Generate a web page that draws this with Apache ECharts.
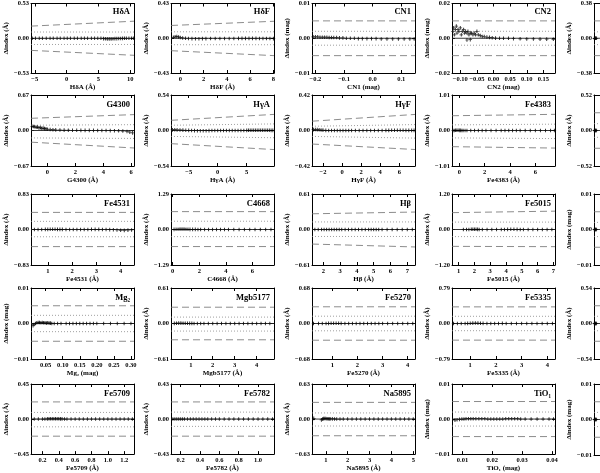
<!DOCTYPE html>
<html>
<head>
<meta charset="utf-8">
<script src="https://cdn.jsdelivr.net/npm/echarts@6/dist/echarts.min.js"></script>
<style>
  html, body { margin: 0; padding: 0; background: #fff; }
  #chart { width: 600px; height: 473px; }
</style>
</head>
<body>
<div id="chart"></div>
<script>
// 5x5 grid of residual panels, reading order; the 5th column is cut off by the frame
const names = ['HδA', 'HδF', 'CN1', 'CN2', '',
  'G4300', 'HγA', 'HγF', 'Fe4383', '',
  'Fe4531', 'C4668', 'Hβ', 'Fe5015', '',
  'Mg₂', 'Mgb5177', 'Fe5270', 'Fe5335', '',
  'Fe5709', 'Fe5782', 'Na5895', 'TiO₁', '']
const units = ['Å', 'Å', 'mag', 'mag', 'Å',
  'Å', 'Å', 'Å', 'Å', 'Å',
  'Å', 'Å', 'Å', 'Å', 'mag',
  'mag', 'Å', 'Å', 'Å', 'Å',
  'Å', 'Å', 'Å', 'mag', 'mag']
const yMax = [0.53, 0.43, 0.01, 0.02, 0.38,
  0.67, 0.54, 0.42, 1.01, 0.52,
  0.83, 1.29, 0.61, 1.20, 0.01,
  0.01, 0.61, 0.68, 0.79, 0.54,
  0.45, 0.43, 0.63, 0.01, 0.01]
const xRange = [[-5.6, 10.6], [-0.8, 8.05], [-0.212, 0.148], [-0.125, 0.185], [0, 1],
  [-1.17, 6.2], [-8.05, 9.7], [-3.15, 7.65], [-0.58, 7.55], [0, 1],
  [0.31, 4.55], [-0.13, 7.63], [1.33, 7.46], [0.58, 7.1], [0, 1],
  [0.007, 0.309], [0.1, 4.79], [0.19, 4.29], [0.29, 4.3], [0, 1],
  [0.06, 1.32], [0.1, 1.165], [0.37, 5.08], [0.0065, 0.041], [0, 1]]
const xTicks = [[-5, 0, 5, 10], [0, 2, 4, 6, 8], [-0.2, -0.1, 0, 0.1], [-0.1, -0.05, 0, 0.05, 0.1, 0.15], [],
  [0, 2, 4, 6], [-5, 0, 5], [-2, 0, 2, 4, 6], [0, 2, 4, 6], [],
  [1, 2, 3, 4], [0, 2, 4, 6], [2, 3, 4, 5, 6, 7], [1, 2, 3, 4, 5, 6, 7], [],
  [0.05, 0.1, 0.15, 0.2, 0.25, 0.3], [1, 2, 3, 4], [1, 2, 3, 4], [1, 2, 3, 4], [],
  [0.2, 0.4, 0.6, 0.8, 1.0, 1.2], [0.2, 0.4, 0.6, 0.8, 1.0], [1, 2, 3, 4, 5], [0.01, 0.02, 0.03, 0.04], []]
const xDecimals = [0, 0, 1, 2, 0, 0, 0, 0, 0, 0, 0, 0, 0, 0, 0, 2, 0, 0, 0, 0, 1, 1, 0, 2, 0]

// reference lines: [value at left edge, value at right edge]
const dashedUp = [[0.185, 0.26], [0.158, 0.21], [0.005, 0.005], [0.01, 0.01], [0.19, 0.19],
  [0.23, 0.30], [0.155, 0.245], [0.11, 0.19], [0.42, 0.46], [0.26, 0.26],
  [0.40, 0.40], [0.65, 0.65], [0.27, 0.30], [0.57, 0.62], [0.005, 0.005],
  [0.005, 0.005], [0.28, 0.28], [0.32, 0.32], [0.37, 0.37], [0.27, 0.27],
  [0.22, 0.22], [0.21, 0.21], [0.30, 0.30], [0.005, 0.005], [0.005, 0.005]]
const dashedLo = [[-0.185, -0.26], [-0.154, -0.215], [-0.005, -0.005], [-0.01, -0.01], [-0.19, -0.19],
  [-0.22, -0.33], [-0.2, -0.29], [-0.16, -0.225], [-0.46, -0.5], [-0.26, -0.26],
  [-0.40, -0.40], [-0.62, -0.62], [-0.25, -0.30], [-0.57, -0.58], [-0.005, -0.005],
  [-0.005, -0.005], [-0.28, -0.28], [-0.32, -0.32], [-0.37, -0.37], [-0.27, -0.27],
  [-0.22, -0.22], [-0.21, -0.21], [-0.30, -0.30], [-0.005, -0.005], [-0.005, -0.005]]
const dottedUp = [[0.095, 0.095], [0.08, 0.08], [0.002, 0.002], [0.004, 0.004], [0.07, 0.07],
  [0.1, 0.11], [0.08, 0.1], [0.05, 0.07], [0.16, 0.18], [0.1, 0.1],
  [0.19, 0.19], [0.3, 0.3], [0.13, 0.13], [0.25, 0.25], [0.002, 0.002],
  [0.0023, 0.0023], [0.11, 0.11], [0.14, 0.14], [0.16, 0.16], [0.11, 0.11],
  [0.085, 0.085], [0.085, 0.085], [0.11, 0.11], [0.002, 0.002], [0.002, 0.002]]
const dottedLo = [[-0.095, -0.095], [-0.08, -0.08], [-0.002, -0.002], [-0.004, -0.004], [-0.07, -0.07],
  [-0.14, -0.15], [-0.09, -0.11], [-0.07, -0.09], [-0.21, -0.23], [-0.1, -0.1],
  [-0.17, -0.17], [-0.26, -0.26], [-0.12, -0.12], [-0.24, -0.24], [-0.002, -0.002],
  [-0.0023, -0.0023], [-0.13, -0.13], [-0.14, -0.14], [-0.16, -0.16], [-0.11, -0.11],
  [-0.1, -0.1], [-0.09, -0.09], [-0.125, -0.125], [-0.002, -0.002], [-0.002, -0.002]]

// residual points [index value, Δindex]
const ptsHdA = [[-5.4, 0], [-4.9, 0], [-4.3, 0], [-3.8, 0], [-3.2, 0], [-2.6, 0], [-2.1, 0], [-1.5, 0], [-1, 0], [-0.4, 0],
  [0.1, 0], [0.6, 0], [1.2, 0], [1.7, 0], [2.3, 0], [2.8, 0], [3.3, 0], [3.9, 0], [4.4, 0], [4.9, 0], [5.4, 0],
  [5.8, -0.005], [6.1, -0.008], [6.4, -0.01], [6.7, -0.01], [7.0, -0.01], [7.3, -0.008], [7.6, -0.006], [7.9, -0.005],
  [8.2, -0.004], [8.5, -0.003], [8.8, -0.002], [9.1, 0], [9.4, 0], [9.8, 0], [10.2, 0], [10.5, 0]]
const ptsHdF = [[-0.6, 0.012], [-0.45, 0.018], [-0.3, 0.02], [-0.15, 0.016], [0, 0.01], [0.2, 0.004], [0.45, 0],
  [0.7, -0.003], [1, -0.005], [1.3, -0.006], [1.6, -0.006], [1.9, -0.005], [2.2, -0.005], [2.6, -0.004], [3, -0.004],
  [3.4, -0.004], [3.8, -0.003], [4.2, -0.003], [4.6, -0.003], [5, -0.002], [5.3, -0.002], [5.6, -0.002], [5.9, -0.002],
  [6.2, -0.002], [6.5, -0.002], [6.8, -0.003], [7.1, -0.003], [7.4, -0.004], [7.7, -0.004], [8, -0.005]]
const ptsCN1 = [[-0.208, 0.0004], [-0.2, 0.0004], [-0.192, 0.0004], [-0.184, 0.0003], [-0.176, 0.0003], [-0.168, 0.0003],
  [-0.16, 0.0003], [-0.152, 0.0002], [-0.144, 0.0002], [-0.136, 0.0002], [-0.126, 0.0002], [-0.116, 0.0001], [-0.104, 0.0001],
  [-0.092, 0], [-0.078, 0], [-0.064, 0], [-0.05, -0.0001], [-0.036, -0.0001], [-0.02, -0.0001], [-0.004, -0.0001],
  [0.012, -0.0001], [0.03, -0.0002], [0.05, -0.0002], [0.07, -0.0002], [0.09, -0.0002], [0.11, -0.0002], [0.13, -0.0002], [0.145, -0.0002]]
const ptsCN2 = [[-0.122, 0.004], [-0.12, 0.006], [-0.118, 0.002], [-0.115, 0.005], [-0.112, 0.007], [-0.11, 0.003],
  [-0.107, 0.005], [-0.104, 0.004], [-0.1, 0.006], [-0.097, 0.002], [-0.094, 0.004], [-0.09, 0.005], [-0.087, 0.003],
  [-0.084, 0.004], [-0.08, 0.003], [-0.077, 0.004], [-0.074, 0.002], [-0.07, 0.003], [-0.066, 0.003], [-0.062, 0.002],
  [-0.058, 0.003], [-0.054, 0.002], [-0.05, 0.004], [-0.046, 0.002], [-0.08, -0.001], [-0.07, -0.0008], [-0.04, 0.0015],
  [-0.034, 0.001], [-0.028, 0.001], [-0.02, 0.0007], [-0.012, 0.0005], [-0.004, 0.0003], [0.006, 0.0001], [0.018, 0],
  [0.03, 0], [0.045, 0], [0.06, -0.0002], [0.08, -0.0003], [0.1, -0.0004], [0.12, -0.0004], [0.14, -0.0005], [0.16, -0.0005], [0.18, -0.0006]]
const ptsG4300 = [[-1.1, 0.08], [-1.0, 0.075], [-0.9, 0.07], [-0.8, 0.06], [-0.7, 0.065], [-0.6, 0.05], [-0.5, 0.055],
  [-0.4, 0.04], [-0.3, 0.045], [-0.2, 0.035], [-0.1, 0.03], [0, 0.025], [0.2, 0.02], [0.4, 0.015], [0.6, 0.012],
  [0.9, 0.01], [1.2, 0.008], [1.5, 0.006], [1.8, 0.005], [2.1, 0.004], [2.4, 0.003], [2.7, 0.003], [3, 0.002],
  [3.3, 0.002], [3.6, 0.001], [3.9, 0], [4.2, 0], [4.5, -0.002], [4.8, -0.004], [5.1, -0.006], [5.4, -0.01],
  [5.7, -0.02], [5.9, -0.03], [6.1, -0.045]]
const ptsHgA = [[-7.8, 0.01], [-7.4, 0.012], [-7, 0.01], [-6.5, 0.008], [-6, 0.006], [-5.5, 0.004], [-5, 0.002],
  [-4.5, 0], [-4, -0.002], [-3.5, -0.004], [-3, -0.004], [-2.5, -0.004], [-2, -0.003], [-1.5, -0.002], [-1, -0.001],
  [-0.5, 0], [0, 0], [0.5, 0], [1, 0], [1.5, 0], [2, 0], [2.5, 0], [3, 0], [3.5, 0], [4, 0], [4.5, 0.001], [5, 0.002],
  [5.3, 0.003], [5.6, 0.003], [5.9, 0.004], [6.2, 0.004], [6.5, 0.004], [6.8, 0.004], [7.1, 0.004], [7.4, 0.004],
  [7.7, 0.004], [8, 0.004], [8.3, 0.003], [8.6, 0.003], [8.9, 0.003], [9.2, 0.002], [9.5, 0.002]]
const ptsHgF = [[-3, 0.01], [-2.8, 0.012], [-2.6, 0.01], [-2.4, 0.008], [-2.2, 0.006], [-2, 0.004], [-1.7, 0.002],
  [-1.4, 0], [-1.1, 0], [-0.8, 0], [-0.5, 0], [-0.2, 0], [0.1, 0], [0.4, 0], [0.7, 0], [1, 0], [1.4, 0], [1.8, 0],
  [2.2, 0], [2.6, 0], [3, 0], [3.4, 0], [3.8, 0], [4.2, 0], [4.6, 0.002], [4.9, 0.002], [5.2, 0.003], [5.5, 0.003],
  [5.8, 0.003], [6.1, 0.003], [6.4, 0.003], [6.7, 0.002], [7, 0.002], [7.3, 0.002], [7.55, 0.002]]
const ptsFe4383 = [[-0.5, 0], [-0.4, 0], [-0.3, 0.005], [-0.2, 0.006], [-0.1, 0.006], [0, 0.004], [0.1, 0.004],
  [0.2, 0.002], [0.3, 0.002], [0.45, 0], [0.6, 0], [0.9, 0], [1.2, 0], [1.5, 0], [1.8, 0], [2.1, 0], [2.5, 0],
  [2.9, 0], [3.3, 0], [3.6, 0], [3.9, 0], [4.2, 0], [4.5, 0], [4.8, 0], [5.2, 0], [5.6, 0], [6, 0], [6.4, 0],
  [6.8, 0], [7.2, 0], [7.5, 0]]
const ptsFe4531 = [[0.45, 0], [0.6, 0], [0.75, 0], [0.9, 0.002], [1, 0.004], [1.1, 0.006], [1.2, 0.006], [1.3, 0.005],
  [1.4, 0.004], [1.5, 0.003], [1.6, 0.002], [1.75, 0.001], [1.9, 0], [2.05, 0], [2.2, 0], [2.35, 0], [2.5, 0],
  [2.65, 0], [2.8, 0.002], [2.95, 0.003], [3.1, 0.002], [3.25, 0], [3.4, 0], [3.55, -0.002], [3.7, -0.005],
  [3.85, -0.012], [4, -0.018], [4.15, -0.02], [4.3, -0.015], [4.45, -0.01]]
const ptsC4668 = [[0.1, 0.005], [0.25, 0.008], [0.4, 0.01], [0.55, 0.012], [0.7, 0.014], [0.85, 0.012], [1, 0.01],
  [1.15, 0.008], [1.3, 0.006], [1.5, 0.004], [1.7, 0.003], [1.9, 0.002], [2.1, 0.001], [2.4, 0], [2.7, 0], [3, 0],
  [3.3, 0], [3.6, 0], [3.9, 0], [4.2, 0], [4.6, 0], [5, 0], [5.4, 0], [5.8, 0], [6.2, 0], [6.6, 0], [7, 0], [7.4, 0]]
const ptsHb = [[1.5, 0], [1.7, 0], [1.9, 0], [2.05, 0], [2.2, 0], [2.35, 0], [2.5, 0], [2.65, 0], [2.8, 0], [2.95, 0],
  [3.1, 0], [3.3, 0], [3.5, 0], [3.7, 0], [3.9, 0], [4.1, 0], [4.3, 0], [4.5, 0], [4.7, 0], [4.85, 0], [5, 0],
  [5.15, 0], [5.3, 0], [5.5, 0], [5.8, 0], [6.1, 0], [6.4, 0], [6.7, 0], [7, 0], [7.3, 0]]
const ptsFe5015 = [[1.3, 0], [1.5, 0], [1.65, 0], [1.8, 0.006], [1.9, 0.008], [2, 0.008], [2.1, 0.006], [2.2, 0.004],
  [2.3, 0.002], [2.5, 0], [2.8, 0], [3.1, 0], [3.4, 0], [3.7, 0], [3.9, 0], [4.1, 0.004], [4.3, 0.006], [4.5, 0.006],
  [4.7, 0.004], [4.9, 0.002], [5.1, 0], [5.4, 0], [5.7, 0], [6, 0], [6.3, 0], [6.6, 0], [6.9, 0]]
const ptsCol5 = [[0.01, 0], [0.02, 0], [0.03, 0], [0.04, 0], [0.05, 0], [0.07, 0], [0.1, 0]]
const ptsMg2 = [[0.013, -0.0006], [0.016, -0.0003], [0.02, 0], [0.024, 0.0002], [0.028, 0.0003], [0.032, 0.0003],
  [0.036, 0.0002], [0.04, 0.0003], [0.044, 0.0002], [0.048, 0.0002], [0.052, 0.0001], [0.056, 0.0002], [0.06, 0.0001],
  [0.064, 0.0001], [0.068, 0], [0.075, 0], [0.085, 0], [0.095, 0], [0.11, 0], [0.12, 0], [0.13, 0], [0.14, 0],
  [0.15, 0], [0.16, 0], [0.17, 0], [0.18, 0], [0.19, 0], [0.2, 0], [0.22, 0], [0.24, 0], [0.26, 0], [0.28, 0], [0.3, 0]]
const ptsMgb = [[0.25, 0.003], [0.35, 0.005], [0.45, 0.006], [0.55, 0.006], [0.65, 0.005], [0.75, 0.004], [0.85, 0.004],
  [0.95, 0.003], [1.05, 0.002], [1.15, 0.001], [1.3, 0], [1.45, 0], [1.6, 0], [1.8, 0], [2, 0], [2.2, 0], [2.4, 0],
  [2.6, 0], [2.8, 0], [3, 0], [3.2, 0], [3.4, 0], [3.6, 0], [3.8, 0], [4, 0], [4.2, 0], [4.4, 0], [4.6, 0]]
const ptsFe5270 = [[0.25, 0], [0.45, 0], [0.6, 0], [0.75, 0], [0.85, 0.002], [0.95, 0.004], [1.05, 0.005], [1.15, 0.005],
  [1.25, 0.004], [1.35, 0.002], [1.5, 0], [1.65, 0], [1.8, 0], [1.95, 0], [2.1, 0], [2.25, 0], [2.4, 0], [2.55, 0],
  [2.7, 0], [2.85, 0], [3, 0], [3.2, 0], [3.4, 0], [3.6, 0], [3.8, 0], [4, 0], [4.2, 0]]
const ptsFe5335 = [[0.35, 0], [0.5, 0], [0.65, 0], [0.8, 0], [0.9, 0.003], [1, 0.005], [1.1, 0.008], [1.2, 0.01],
  [1.3, 0.008], [1.4, 0.005], [1.5, 0.003], [1.65, 0], [1.8, 0], [1.95, 0], [2.1, 0], [2.25, 0.002], [2.4, 0],
  [2.6, 0], [2.8, 0], [3, 0], [3.2, 0], [3.4, 0], [3.6, 0], [3.8, 0], [4, 0], [4.2, 0]]
const ptsFe5709 = [[0.1, 0], [0.15, 0], [0.2, 0], [0.23, 0], [0.26, 0.002], [0.28, 0.003], [0.3, 0.003], [0.32, 0.003],
  [0.34, 0.003], [0.36, 0.003], [0.38, 0.003], [0.4, 0.003], [0.42, 0.002], [0.44, 0.002], [0.47, 0], [0.5, 0],
  [0.55, 0], [0.6, 0], [0.65, 0], [0.7, 0], [0.75, 0], [0.8, 0], [0.85, 0], [0.9, 0], [0.95, 0], [1, 0], [1.05, 0],
  [1.1, 0], [1.15, 0], [1.2, 0], [1.25, 0], [1.3, 0]]
const ptsFe5782 = [[0.12, 0], [0.14, 0], [0.16, 0], [0.18, 0], [0.2, 0], [0.22, 0], [0.24, 0], [0.27, 0], [0.3, 0],
  [0.33, 0], [0.36, 0], [0.39, 0], [0.42, 0], [0.45, 0], [0.48, 0], [0.52, 0], [0.56, 0], [0.6, 0], [0.65, 0],
  [0.7, 0], [0.75, 0], [0.8, 0], [0.85, 0], [0.9, 0], [0.95, 0], [1, 0], [1.05, 0], [1.1, 0], [1.15, 0]]
const ptsNa5895 = [[0.45, 0.012], [0.8, -0.015], [0.85, 0], [0.9, 0.008], [0.95, 0.01], [1, 0.01], [1.05, 0.006],
  [1.1, 0.005], [1.15, 0.004], [1.2, 0.004], [1.3, 0.003], [1.4, 0.002], [1.5, 0], [1.65, 0], [1.8, 0], [2, 0],
  [2.2, 0], [2.4, 0], [2.6, 0], [2.8, 0], [3, 0], [3.2, 0], [3.4, 0], [3.6, 0], [3.8, 0], [4, 0], [4.2, 0],
  [4.4, 0], [4.6, 0], [4.8, 0], [5, 0]]
const ptsTiO1 = [[0.0075, -0.0003], [0.0082, -0.0002], [0.009, -0.0001], [0.0098, 0], [0.0105, 0], [0.0112, 0.0001],
  [0.012, 0.0001], [0.0128, 0.0001], [0.0136, 0.0001], [0.0145, 0.0001], [0.0155, 0.0001], [0.0165, 0.0001],
  [0.0175, 0.0001], [0.0185, 0], [0.0195, 0], [0.0205, 0], [0.0215, 0], [0.0225, 0], [0.0235, 0], [0.0245, 0.0001],
  [0.0255, 0.0001], [0.0265, 0.0001], [0.0275, 0.0001], [0.0285, 0.0001], [0.0295, 0], [0.031, 0], [0.033, 0],
  [0.035, 0], [0.037, 0], [0.039, 0], [0.0405, 0]]

const points = [ptsHdA, ptsHdF, ptsCN1, ptsCN2, ptsCol5,
  ptsG4300, ptsHgA, ptsHgF, ptsFe4383, ptsCol5,
  ptsFe4531, ptsC4668, ptsHb, ptsFe5015, ptsCol5,
  ptsMg2, ptsMgb, ptsFe5270, ptsFe5335, ptsCol5,
  ptsFe5709, ptsFe5782, ptsNa5895, ptsTiO1, ptsCol5]

// layout of the plot boxes in pixels
const colLeft = [31, 171, 312, 452, 594]
const rowTop = [2, 95, 194, 288, 384]
const plotW = 103
const plotH = 71

const FONT = '"Liberation Serif", "DejaVu Serif", serif'
// small cross with a longer vertical arm (point + error bar)
const PLUS = 'path://M-0.22,-1H0.22V-0.2H0.8V0.2H0.22V1H-0.22V0.2H-0.8V-0.2H-0.22Z'
const fmt = (v, d) => v.toFixed(d).replace('-', '−')

const grids = []
const xAxes = []
const yAxes = []
const series = []
const texts = []

names.forEach((name, i) => {
  const left = colLeft[i % 5]
  const top = rowTop[Math.floor(i / 5)]
  const [x0, x1] = xRange[i]
  const m = yMax[i]
  const yTicks = [-m, 0, m]
  grids.push({ left, top, width: plotW, height: plotH })

  const axisLine = { show: true, onZero: false, lineStyle: { color: '#000', width: 1 } }
  const tick = (vals) => ({ show: true, inside: true, length: 3, customValues: vals, lineStyle: { color: '#000', width: 1 } })
  xAxes.push({
    gridIndex: i, type: 'value', position: 'bottom', min: x0, max: x1,
    axisLine, splitLine: { show: false }, axisTick: tick(xTicks[i]),
    axisLabel: {
      customValues: xTicks[i], margin: 3, fontSize: 6.5, fontFamily: FONT, fontWeight: 'bold', color: '#000',
      formatter: (v) => fmt(v, xDecimals[i]),
    },
    name: name ? `${name} (${units[i]})` : '', nameLocation: 'middle', nameGap: 10,
    nameTextStyle: { fontSize: 7, fontFamily: FONT, fontWeight: 'bold', color: '#000' },
  })
  xAxes.push({
    gridIndex: i, type: 'value', position: 'top', min: x0, max: x1,
    axisLine, splitLine: { show: false }, axisTick: tick(xTicks[i]), axisLabel: { show: false },
  })
  yAxes.push({
    gridIndex: i, type: 'value', position: 'left', min: -m, max: m,
    axisLine, splitLine: { show: false }, axisTick: tick(yTicks),
    axisLabel: {
      customValues: yTicks, margin: 2, fontSize: 6.5, fontFamily: FONT, fontWeight: 'bold', color: '#000',
      formatter: (v) => fmt(v, 2),
    },
    name: `Δindex (${units[i]})`, nameLocation: 'middle', nameGap: 20,
    nameTextStyle: { fontSize: 7, fontFamily: FONT, fontWeight: 'bold', color: '#000' },
  })
  yAxes.push({
    gridIndex: i, type: 'value', position: 'right', min: -m, max: m,
    axisLine, splitLine: { show: false }, axisTick: tick(yTicks), axisLabel: { show: false },
  })

  const ax = { xAxisIndex: 2 * i, yAxisIndex: 2 * i }
  const refLine = (ends, style) => ({
    type: 'line', ...ax, data: [[x0, ends[0]], [x1, ends[1]]], symbol: 'none', silent: true,
    lineStyle: style, z: 1,
  })
  const dashed = { color: '#6f6f6f', width: 0.8, type: [7, 4] }
  const dotted = { color: '#888', width: 0.8, type: [1, 2] }
  series.push(refLine(dashedUp[i], dashed), refLine(dashedLo[i], dashed))
  series.push(refLine(dottedUp[i], dotted), refLine(dottedLo[i], dotted))
  series.push(refLine([0, 0], { color: '#222', width: 0.9 }))
  series.push({
    type: 'scatter', ...ax, data: points[i], symbol: PLUS, symbolSize: 3.6,
    itemStyle: { color: '#000' }, silent: true, z: 3,
  })

  if (name) {
    texts.push({
      type: 'text', x: left + plotW - 4, y: top + 5,
      style: {
        text: name, align: 'right', textAlign: 'right', verticalAlign: 'top', textVerticalAlign: 'top',
        fontSize: 8.5, fontFamily: FONT, fontWeight: 'bold', fill: '#000',
      },
    })
  }
})

const chart = echarts.init(document.getElementById('chart'))
chart.setOption({
  animation: false,
  backgroundColor: '#fff',
  grid: grids,
  xAxis: xAxes,
  yAxis: yAxes,
  series,
  graphic: texts,
})
</script>
</body>
</html>
